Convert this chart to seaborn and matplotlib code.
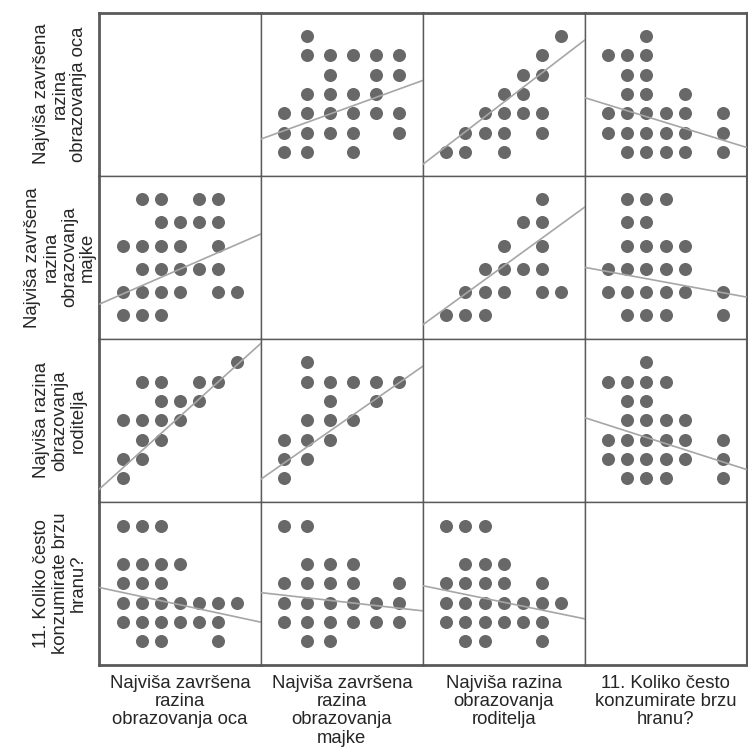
import numpy as np
import pandas as pd
import matplotlib
matplotlib.use("Agg")
import matplotlib.pyplot as plt
import seaborn as sns

sns.set_style("white")
plt.rcParams['font.family'] = ['Liberation Sans', 'DejaVu Sans']

# Variable labels (order of rows / columns)
labels = [
    "Najviša završena\nrazina\nobrazovanja oca",
    "Najviša završena\nrazina\nobrazovanja\nmajke",
    "Najviša razina\nobrazovanja\nroditelja",
    "11. Koliko često\nkonzumirate brzu\nhranu?",
]
left_labels = [
    "Najviša završena\nrazina\nobrazovanja oca",
    "Najviša završena\nrazina\nobrazovanja\nmajke",
    "Najviša razina\nobrazovanja\nroditelja",
    "11. Koliko često\nkonzumirate brzu\nhranu?",
]
# level ranges of each variable (otac, majka, roditelji, brza hrana)
level_min = [1, 1, 1, 1]
level_max = [7, 6, 7, 7]

# Distinct value pairs observed (first var, second var)
pair_otac_majka_a = [7, 6, 6, 6, 6, 6, 5, 5, 5, 4, 4, 4, 4, 3, 3, 3, 3, 3, 3, 2, 2, 2, 2, 2, 1, 1, 1]
pair_otac_majka_b = [2, 2, 3, 4, 5, 6, 3, 5, 6, 2, 3, 4, 5, 1, 2, 3, 4, 5, 6, 1, 2, 3, 4, 6, 1, 2, 4]

pair_otac_rod_a = [7, 6, 5, 5, 4, 4, 3, 3, 3, 3, 2, 2, 2, 2, 1, 1, 1]
pair_otac_rod_b = [7, 6, 5, 6, 4, 5, 3, 4, 5, 6, 2, 3, 4, 6, 1, 2, 4]

pair_otac_hrana_a = [7, 6, 6, 6, 5, 5, 4, 4, 4, 3, 3, 3, 3, 3, 3, 2, 2, 2, 2, 2, 2, 1, 1, 1, 1, 1]
pair_otac_hrana_b = [3, 1, 2, 3, 2, 3, 2, 3, 5, 1, 2, 3, 4, 5, 7, 1, 2, 3, 4, 5, 7, 2, 3, 4, 5, 7]

pair_majka_rod_a = [6, 5, 5, 4, 4, 3, 3, 3, 3, 2, 2, 2, 2, 2, 1, 1, 1]
pair_majka_rod_b = [6, 5, 6, 4, 6, 3, 4, 5, 6, 2, 3, 4, 6, 7, 1, 2, 3]

pair_majka_hrana_a = [6, 6, 6, 5, 5, 4, 4, 4, 4, 3, 3, 3, 3, 3, 2, 2, 2, 2, 2, 2, 1, 1, 1, 1]
pair_majka_hrana_b = [2, 3, 4, 2, 3, 2, 3, 4, 5, 1, 2, 3, 4, 5, 1, 2, 3, 4, 5, 7, 2, 3, 4, 7]

pair_rod_hrana_a = [7, 6, 6, 6, 6, 5, 5, 4, 4, 4, 4, 3, 3, 3, 3, 3, 3, 2, 2, 2, 2, 2, 2, 1, 1, 1, 1]
pair_rod_hrana_b = [3, 1, 2, 3, 4, 2, 3, 2, 3, 4, 5, 1, 2, 3, 4, 5, 7, 1, 2, 3, 4, 5, 7, 2, 3, 4, 7]

pairs = {
    (0, 1): (pair_otac_majka_a, pair_otac_majka_b),
    (0, 2): (pair_otac_rod_a, pair_otac_rod_b),
    (0, 3): (pair_otac_hrana_a, pair_otac_hrana_b),
    (1, 2): (pair_majka_rod_a, pair_majka_rod_b),
    (1, 3): (pair_majka_hrana_a, pair_majka_hrana_b),
    (2, 3): (pair_rod_hrana_a, pair_rod_hrana_b),
}

# Linear fit (row variable on column variable): slope, intercept
fit_slope = {
    (0, 1): 0.431, (0, 2): 0.762, (0, 3): -0.305,
    (1, 0): 0.359, (1, 2): 0.601, (1, 3): -0.152,
    (2, 0): 0.895, (2, 1): 0.831, (2, 3): -0.318,
    (3, 0): -0.213, (3, 1): -0.134, (3, 2): -0.203,
}
fit_intercept = {
    (0, 1): 1.677, (0, 2): 0.527, (0, 3): 3.744,
    (1, 0): 1.548, (1, 2): 0.716, (1, 3): 3.027,
    (2, 0): 0.624, (2, 1): 0.966, (2, 3): 4.066,
    (3, 0): 3.744, (3, 1): 3.520, (3, 2): 3.836,
}

W, H = 748, 753
fig = plt.figure(figsize=(W / 100, H / 100), dpi=100)
gs = fig.add_gridspec(4, 4, left=99 / W, right=746.5 / W, top=1 - 12.5 / H,
                      bottom=1 - 665 / H, wspace=0, hspace=0)

dot_color = "#686868"
line_color = "#a6a6a6"
edge_color = "#5a5a5a"
PAD = 0.205

def lims(i):
    lo, hi = level_min[i], level_max[i]
    span = hi - lo
    return lo - PAD * span, hi + PAD * span

for r in range(4):
    for c in range(4):
        ax = fig.add_subplot(gs[r, c])
        ax.set_xlim(*lims(c))
        ax.set_ylim(*lims(r))
        if r != c:
            if (r, c) in pairs:
                yv, xv = pairs[(r, c)]
            else:
                xv, yv = pairs[(c, r)]
            df = pd.DataFrame({"x": xv, "y": yv})
            sns.scatterplot(data=df, x="x", y="y", ax=ax, color=dot_color,
                            s=88, linewidth=0, zorder=2, legend=False)
            xs = np.array(ax.get_xlim())
            ax.plot(xs, fit_intercept[(r, c)] + fit_slope[(r, c)] * xs,
                    color=line_color, lw=1.2, zorder=3)
            ax.set_xlim(*lims(c))
        ax.set_xticks([])
        ax.set_yticks([])
        ax.set_xlabel("")
        ax.set_ylabel("")
        for side, sp in ax.spines.items():
            sp.set_visible(True)
            sp.set_color(edge_color)
            sp.set_linewidth(1.0)
        if c == 0:
            ax.spines['left'].set_linewidth(2.0)
        if r == 0:
            ax.spines['top'].set_linewidth(2.0)
        if r == 3:
            ax.spines['bottom'].set_linewidth(2.0)
        if c == 3:
            ax.spines['right'].set_linewidth(1.5)
        if c == 0:
            ax.text(-0.24, 0.5, left_labels[r], transform=ax.transAxes,
                    rotation=90, ha="center", va="center", fontsize=13.3,
                    linespacing=1.1, color="#262626")
        if r == 3:
            ax.text(0.5, -0.06, labels[c], transform=ax.transAxes,
                    ha="center", va="top", fontsize=13.3,
                    linespacing=1.1, color="#262626")

fig.savefig("out.png", dpi=100)
